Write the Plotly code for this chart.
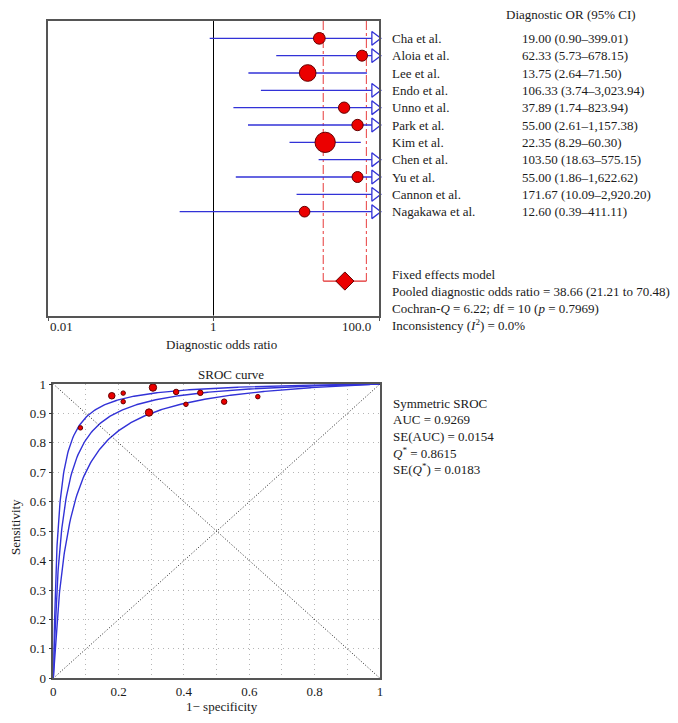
import numpy as np
import plotly.graph_objects as go

# forest plot data
studies = ["Cha et al.", "Aloia et al.", "Lee et al.", "Endo et al.", "Unno et al.",
           "Park et al.", "Kim et al.", "Chen et al.", "Yu et al.", "Cannon et al.",
           "Nagakawa et al."]
dor = [19.00, 62.33, 13.75, 106.33, 37.89, 55.00, 22.35, 103.50, 55.00, 171.67, 12.60]
dor_low = [0.90, 5.73, 2.64, 3.74, 1.74, 2.61, 8.29, 18.63, 1.86, 10.09, 0.39]
dor_high = [399.01, 678.15, 71.50, 3023.94, 823.94, 1157.38, 60.30, 575.15, 1622.62,
            2920.20, 411.11]
study_weight = [1.37, 1.21, 2.78, 1.2, 1.28, 1.28, 4.12, 1.3, 1.21, 1.2, 1.14]

pooled_dor = 38.66
pooled_low = 21.21
pooled_high = 70.48

# SROC data
fpr = [0.083, 0.179, 0.214, 0.214, 0.305, 0.293, 0.376, 0.450, 0.406, 0.523, 0.626]
tpr = [0.851, 0.960, 0.969, 0.940, 0.988, 0.903, 0.973, 0.970, 0.931, 0.940, 0.957]
sroc_weight = [0.8, 1.7, 0.8, 0.8, 2.2, 2.2, 1.2, 1.2, 0.8, 1.2, 0.8]
sroc_dor = [pooled_low, pooled_dor, pooled_high]

W, H = 678, 723
FONT = "Liberation Serif"
BLUE = "rgb(50,50,215)"
RED = "rgb(235,0,0)"
DARKRED = "rgb(100,0,0)"
XMIN, XMAX = 0.01, 100.0


def px(x):
    return x / W


def py(y):
    return 1 - y / H


fig = go.Figure()

# pooled CI bounds (dash-dot) and diamond row
rows = list(range(len(studies)))
pool_row = 14
for b in [pooled_low, pooled_high]:
    fig.add_trace(go.Scatter(x=[b, b], y=[-1, pool_row], mode="lines",
                             line=dict(color="rgb(235,90,90)", width=1.2, dash="dashdot"),
                             xaxis="x", yaxis="y", showlegend=False, hoverinfo="skip"))
fig.add_trace(go.Scatter(x=[pooled_low, pooled_high], y=[pool_row, pool_row], mode="lines",
                         line=dict(color="rgb(225,40,40)", width=1.3),
                         xaxis="x", yaxis="y", showlegend=False))

# CI lines
lx, ly = [], []
for i in rows:
    lx += [dor_low[i], dor_high[i], None]
    ly += [i, i, None]
fig.add_trace(go.Scatter(x=lx, y=ly, mode="lines", line=dict(color=BLUE, width=1.3),
                         xaxis="x", yaxis="y", showlegend=False))

# study points
fig.add_trace(go.Scatter(x=dor, y=rows, mode="markers",
                         marker=dict(size=[10 * np.sqrt(w) for w in study_weight], color=RED,
                                     opacity=1, line=dict(color=DARKRED, width=1)),
                         xaxis="x", yaxis="y", showlegend=False, cliponaxis=True))

# open arrows for CIs running past the axis
arrow_rows = [i for i in rows if dor_high[i] > XMAX]
fig.add_trace(go.Scatter(x=[XMAX * 10 ** (-0.05)] * len(arrow_rows), y=arrow_rows,
                         mode="markers",
                         marker=dict(symbol="triangle-right", size=12, color="white",
                                     opacity=1, line=dict(color=BLUE, width=1.3)),
                         xaxis="x", yaxis="y", showlegend=False, cliponaxis=False))

fig.add_trace(go.Scatter(x=[pooled_dor], y=[pool_row], mode="markers",
                         marker=dict(symbol="diamond", size=14, color=RED, opacity=1,
                                     line=dict(color=DARKRED, width=1)),
                         xaxis="x", yaxis="y", showlegend=False))

# SROC curves
f = np.concatenate([np.geomspace(1e-5, 0.05, 200), np.linspace(0.05, 1, 300)[1:]])
for d in sroc_dor:
    odds = d * f / (1 - f + 1e-12)
    s = odds / (1 + odds)
    fig.add_trace(go.Scatter(x=np.concatenate([[0], f]), y=np.concatenate([[0], s]),
                             mode="lines", line=dict(color=BLUE, width=1.4),
                             xaxis="x2", yaxis="y2", showlegend=False))

for yy in ([0, 1], [1, 0]):
    fig.add_trace(go.Scatter(x=[0, 1], y=yy, mode="lines",
                             line=dict(color="#222", width=1, dash="1px,2px"),
                             xaxis="x2", yaxis="y2", showlegend=False))

fig.add_trace(go.Scatter(x=fpr, y=tpr, mode="markers",
                         marker=dict(size=[5 * np.sqrt(w) for w in sroc_weight], color=RED,
                                     opacity=1, line=dict(color=DARKRED, width=1)),
                         xaxis="x2", yaxis="y2", showlegend=False, cliponaxis=False))

shapes = [dict(type="line", xref="x", yref="y", x0=1, x1=1, y0=-1, y1=16,
               line=dict(color="black", width=1), layer="below")]

ann = []


def text(x, y, s, xanchor="left", yref="paper", size=13, **kw):
    ann.append(dict(x=x, y=y, xref="paper", yref=yref, text=s, showarrow=False,
                    xanchor=xanchor, yanchor="middle", font=dict(family=FONT, size=size,
                                                                 color="#1a1a1a"), **kw))


text(px(504), py(14), "Diagnostic OR (95% CI)")
for i in rows:
    text(px(390), i, studies[i], yref="y")
    text(px(520), i, f"{dor[i]:,.2f} ({dor_low[i]:,.2f}\u2013{dor_high[i]:,.2f})", yref="y")

text(px(390), py(274), "Fixed effects model")
text(px(390), py(291), f"Pooled diagnostic odds ratio = {pooled_dor:.2f} "
                       f"({pooled_low:.2f} to {pooled_high:.2f})")
text(px(390), py(308), "Cochran-<i>Q</i> = 6.22; df = 10 (<i>p</i> = 0.7969)")
text(px(390), py(325), "Inconsistency (<i>I</i><sup>2</sup>) = 0.0%")

# forest x tick labels
text(px(48), py(327), "0.01")
text(px(213), py(327), "1", xanchor="center")
text(px(373), py(327), "100.0", xanchor="right")
text(px(221), py(344), "Diagnostic odds ratio", xanchor="center")

# SROC texts
text(px(231), py(374), "SROC curve", xanchor="center")
text(px(391), py(403), "Symmetric SROC")
text(px(391), py(419.5), "AUC = 0.9269")
text(px(391), py(436), "SE(AUC) = 0.0154")
text(px(391), py(452.5), "<i>Q</i><sup>*</sup> = 0.8615")
text(px(391), py(469), "SE(<i>Q</i><sup>*</sup>) = 0.0183")
text(px(222), py(706), "1\u2212 specificity", xanchor="center")
text(px(15), py(527), "Sensitivity", xanchor="center", textangle=-90)

frame = dict(showline=True, mirror=True, linecolor="#555", linewidth=1.5, zeroline=False,
             automargin=False)
grid = dict(showgrid=True, gridcolor="#b5b5b5", griddash="1px,4px", gridwidth=1)

fig.update_layout(
    width=W, height=H, margin=dict(l=0, r=0, t=0, b=0),
    paper_bgcolor="white", plot_bgcolor="white",
    font=dict(family=FONT, size=13, color="#1a1a1a"),
    showlegend=False, hovermode=False,
    xaxis=dict(domain=[px(48), px(379)], type="log", range=[np.log10(XMIN), np.log10(XMAX)],
               tickvals=[0.01, 1, 100], ticks="outside", ticklen=4, tickcolor="#555",
               showticklabels=False, showgrid=False, anchor="y", **frame),
    yaxis=dict(domain=[py(315.7), py(21)], range=[16, -1], showticklabels=False,
               showgrid=False, ticks="", anchor="x", **frame),
    xaxis2=dict(domain=[px(53.3), px(380)], range=[0, 1], dtick=0.2, tick0=0,
                minor=dict(dtick=0.1, showgrid=True, gridcolor="#b5b5b5",
                           griddash="1px,4px"),
                ticks="", anchor="y2", tickfont=dict(size=13), **grid, **frame),
    yaxis2=dict(domain=[py(678.3), py(384)], range=[0, 1], dtick=0.1, tick0=0,
                ticks="outside", ticklen=3, tickcolor="#333", anchor="x2",
                tickfont=dict(size=13), **grid, **frame),
    shapes=shapes, annotations=ann,
)

fig.write_html("out.html", config={"displayModeBar": False},
               post_script="document.body.style.margin='0';")
